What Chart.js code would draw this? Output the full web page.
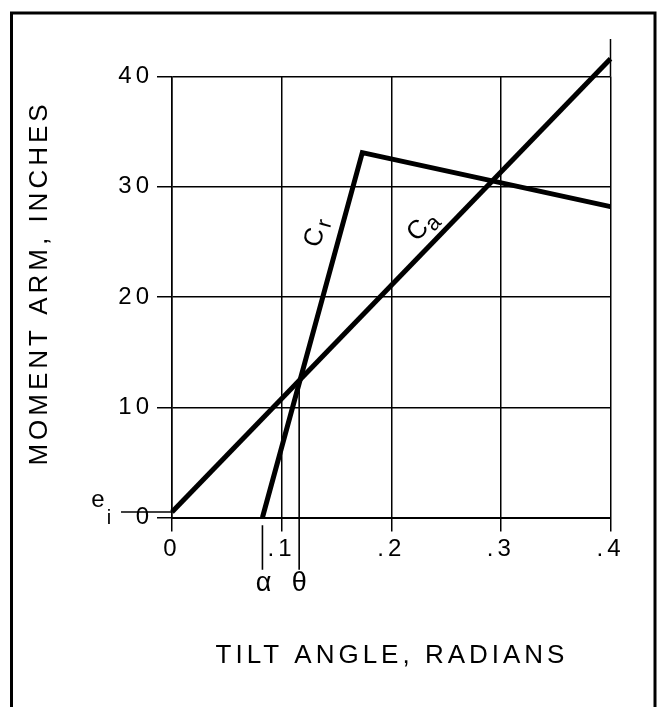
<!DOCTYPE html>
<html>
<head>
<meta charset="utf-8">
<script src="https://cdn.jsdelivr.net/npm/chart.js@4/dist/chart.umd.min.js"></script>
<style>
 body { margin: 0; background: #fff; }
</style>
</head>
<body>
<canvas id="chart_moment" width="664" height="707"></canvas>
<script>
// tick values and labels
const xTicks = [0, 0.1, 0.2, 0.3, 0.4];
const xTickLabels = ['0', '.1', '.2', '.3', '.4'];
const yTicks = [0, 10, 20, 30, 40];

// curve Ca (applied moment arm) and curve Cr (restoring moment arm)
const caX = [0, 0.4];
const caY = [0.5, 41.6];
const crX = [0.0825, 0.1736, 0.4];
const crY = [0, 33.1, 28.2];

// marked values
const eI = 0.5;        // initial offset e_i
const alpha = 0.0825;  // where Cr leaves zero
const theta = 0.116;   // crossing of Ca and Cr
const thetaY = 12.3;

const FONT = "'Liberation Sans', Arial, sans-serif";
const ctx_moment = document.getElementById('chart_moment');

function pts(xs, ys) {
  const out = [];
  for (let i = 0; i < xs.length; i++) out.push({x: xs[i], y: ys[i]});
  return out;
}

const curveStyle = { showLine: true, pointRadius: 0, borderColor: '#000', borderWidth: 5,
                     borderJoinStyle: 'miter', borderCapStyle: 'butt', clip: false, tension: 0 };
const thinStyle  = { showLine: true, pointRadius: 0, borderColor: '#000', borderWidth: 1.6,
                     borderCapStyle: 'butt', clip: false, tension: 0 };

// frame, labels and the little extras the library has no option for
const extras = {
  id: 'extras',
  beforeDraw(chart) {
    const c = chart.ctx;
    c.save();
    c.fillStyle = '#fff';
    c.fillRect(0, 0, chart.width, chart.height);
    c.strokeStyle = '#000';
    c.lineWidth = 3;
    c.strokeRect(11.5, 13, 643.5, 760);
    c.restore();
    c.letterSpacing = '4px';
  },
  afterDraw(chart) {
    const c = chart.ctx;
    const xs = chart.scales.x, ys = chart.scales.y;
    c.save();
    c.fillStyle = '#000';
    c.strokeStyle = '#000';

    // .4 grid line runs a bit above the 40 line
    c.lineWidth = 1.5;
    c.beginPath();
    c.moveTo(xs.getPixelForValue(0.4), ys.getPixelForValue(40));
    c.lineTo(xs.getPixelForValue(0.4), ys.getPixelForValue(43.4));
    c.stroke();

    // axis titles
    c.font = '26px ' + FONT;
    c.letterSpacing = '4px';
    c.textAlign = 'center';
    c.textBaseline = 'middle';
    c.fillText('TILT ANGLE, RADIANS', 392, 656);
    c.save();
    c.translate(40, 283);
    c.rotate(-Math.PI / 2);
    c.fillText('MOMENT ARM, INCHES', 0, 0);
    c.restore();

    // e_i
    c.letterSpacing = '0px';
    c.font = '24px ' + FONT;
    c.fillText('e', 98, 500);
    c.font = '20px ' + FONT;
    c.fillText('i', 109, 518);

    // alpha and theta
    c.font = '27px ' + FONT;
    c.fillText('\u03b1', xs.getPixelForValue(alpha) + 1, 584);
    c.fillText('\u03b8', xs.getPixelForValue(theta), 584);

    // curve labels along their lines
    function curveLabel(sub, x, y, x0, y0, x1, y1) {
      const ang = Math.atan2(ys.getPixelForValue(y1) - ys.getPixelForValue(y0),
                             xs.getPixelForValue(x1) - xs.getPixelForValue(x0));
      c.save();
      c.translate(xs.getPixelForValue(x), ys.getPixelForValue(y));
      c.rotate(ang);
      c.font = '26px ' + FONT;
      c.fillText('C', 0, 0);
      c.font = '22px ' + FONT;
      c.fillText(sub, 16, 6);
      c.restore();
    }
    curveLabel('r', 0.1305, 25.4, crX[0], crY[0], crX[1], crY[1]);
    curveLabel('a', 0.2245, 26.0, caX[0], caY[0], caX[1], caY[1]);
    c.restore();
  }
};

const configMoment = {
  type: 'scatter',
  data: {
    datasets: [
      Object.assign({ label: 'Ca', data: pts(caX, caY) }, curveStyle),
      Object.assign({ label: 'Cr', data: pts(crX, crY) }, curveStyle),
      Object.assign({ label: 'e_i', data: [{x: -0.0465, y: eI}, {x: 0, y: eI}] }, thinStyle),
      Object.assign({ label: 'alpha', data: [{x: alpha, y: -0.7}, {x: alpha, y: -4.75}] }, thinStyle),
      Object.assign({ label: 'theta', data: [{x: theta, y: thetaY}, {x: theta, y: -4.75}] }, thinStyle)
    ]
  },
  options: {
    responsive: false,
    animation: false,
    devicePixelRatio: 1,
    layout: { padding: { left: 0, top: 76.5, right: 53.5, bottom: 0 } },
    plugins: { legend: { display: false }, tooltip: { enabled: false } },
    scales: {
      x: {
        type: 'linear', min: 0, max: 0.4,
        afterFit: function (scale) { scale.height = 189.5; },
        afterBuildTicks: function (scale) { scale.ticks = xTicks.map(v => ({value: v})); },
        grid: { color: '#000', lineWidth: 1.5, tickLength: 14, tickColor: '#000' },
        border: { color: '#000', width: 2 },
        ticks: { color: '#000', padding: 3, maxRotation: 0, autoSkip: false,
                 font: { family: FONT, size: 24 },
                 callback: (v, i) => xTickLabels[i] }
      },
      y: {
        type: 'linear', min: 0, max: 40,
        afterFit: function (scale) { scale.width = 172; },
        afterBuildTicks: function (scale) { scale.ticks = yTicks.map(v => ({value: v})); },
        grid: { color: '#000', lineWidth: 1.5, tickLength: 15, tickColor: '#000' },
        border: { color: '#000', width: 1.5 },
        ticks: { color: '#000', padding: 4, font: { family: FONT, size: 24 },
                 callback: v => String(v) }
      }
    }
  },
  plugins: [extras]
};

const chartMoment = new Chart(ctx_moment, configMoment);
</script>
</body>
</html>
